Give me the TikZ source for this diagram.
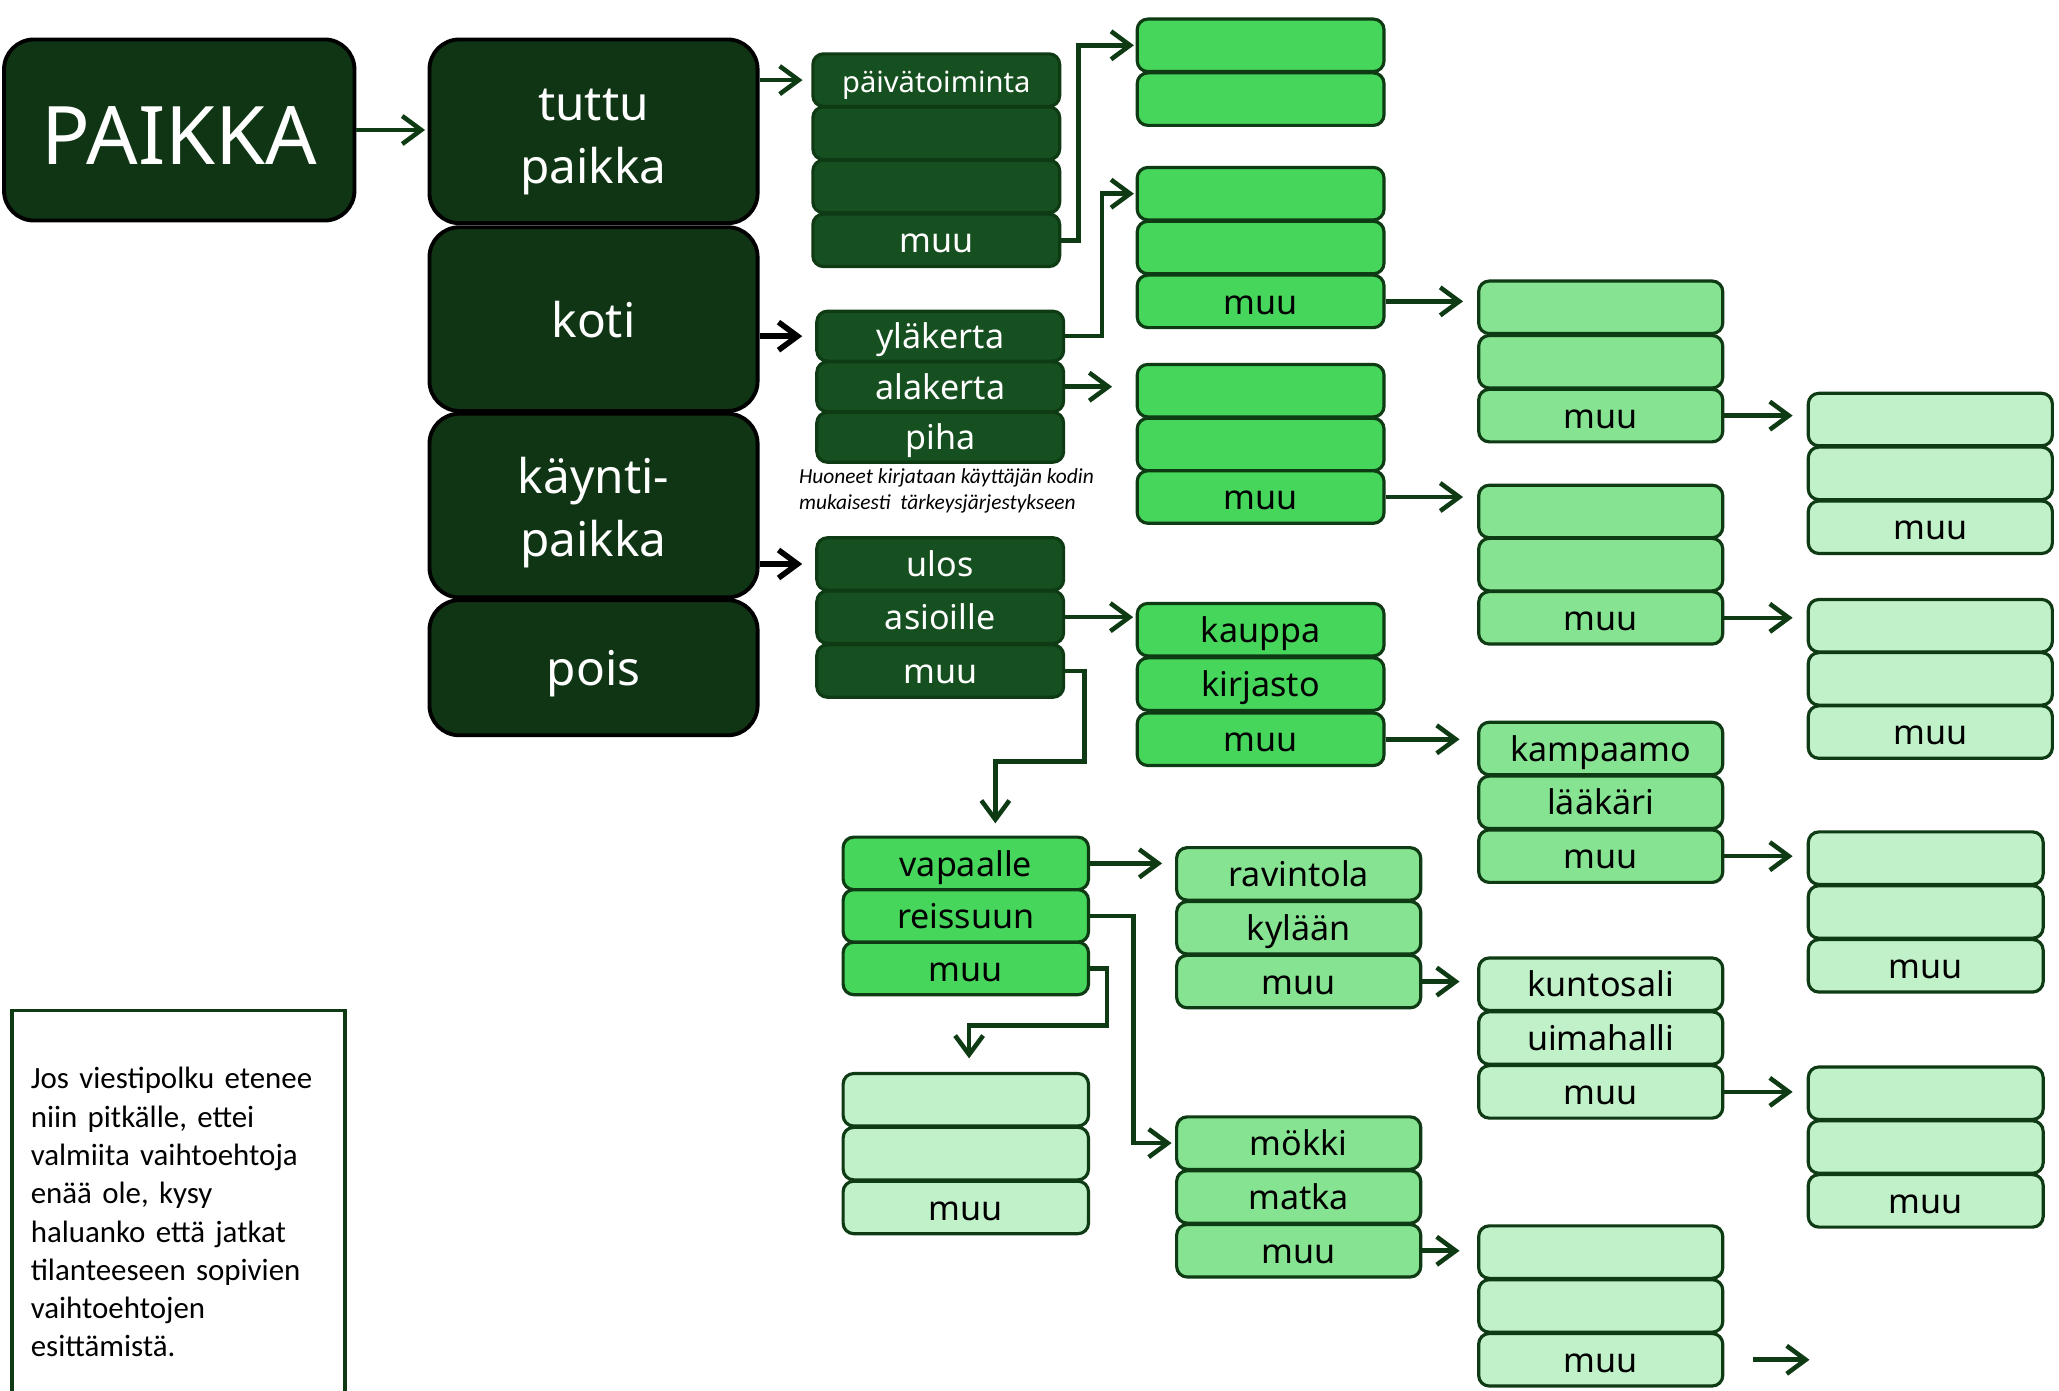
\documentclass[tikz,border=0pt]{standalone}
\usepackage{fontspec}
\setmainfont{Noto Sans}
\newfontfamily\notefont{Carlito}
\usepackage{tikz}
\usetikzlibrary{arrows.meta}

\definecolor{dgreen}{HTML}{0F3514}
\definecolor{mgreen}{HTML}{175020}
\definecolor{bgreen}{HTML}{46D65C}
\definecolor{lgreen}{HTML}{86E391}
\definecolor{pgreen}{HTML}{C1F1C8}
\definecolor{linegreen}{HTML}{0E3A14}

\begin{document}
\begin{tikzpicture}[x=0.013131cm,y=-0.013131cm]

\tikzstyle{big}=[draw=black,line width=1.1pt,fill=dgreen,rounded corners=8.5pt,text=white,minimum width=3.283cm,align=center,font=\fontsize{13.6}{17.9}\selectfont]
\tikzstyle{row}=[draw=linegreen,line width=0.9pt,rounded corners=3pt,minimum width=2.469cm,minimum height=0.525cm,inner sep=0pt,text height=8.4pt,text depth=1.2pt,font=\fontsize{9.7}{11}\selectfont]
\tikzstyle{rd}=[row,fill=mgreen,text=white]
\tikzstyle{rb}=[row,fill=bgreen]
\tikzstyle{rl}=[row,fill=lgreen,minimum width=2.442cm]
\tikzstyle{rp}=[row,fill=pgreen,minimum width=2.442cm]
\tikzstyle{arr}=[draw=linegreen,line width=1.3pt,-{Straight Barb[length=1.9mm,width=2.8mm]},shorten >=2.5pt]
\tikzstyle{barr}=[arr,draw=black,line width=1.6pt]

\useasboundingbox (0,0) rectangle (1568,1059);

% first levels
\node[big,minimum width=3.506cm,minimum height=1.812cm,font=\fontsize{23}{28}\selectfont] (paikka) at (136.5,99) {\rule{0pt}{19.5pt}PAIKKA};
\node[big,minimum height=1.838cm] (tut) at (452,100) {\rule{0pt}{15pt}tuttu\\paikka};
\node[big,minimum height=1.838cm] (kot) at (452,243) {koti};
\node[big,minimum height=1.838cm] (kay) at (452,385) {\rule{0pt}{14.1pt}käynti-\\paikka};
\node[big,minimum height=1.352cm] (poi) at (452,508.5) {\rule{0pt}{13.3pt}pois};

\node[rd,font=\fontsize{8.3}{10}\selectfont] (pv1) at (713,61) {päivätoiminta};
\node[rd] (pv2) at (713,101.5) {};
\node[rd] (pv3) at (713,142) {};
\node[rd] (pv4) at (713,183) {muu};

\node[rd,minimum height=0.499cm] (yla) at (716,256) {yläkerta};
\node[rd,minimum height=0.499cm] (ala) at (716,294.5) {alakerta};
\node[rd,minimum height=0.499cm] (pih) at (716,333) {piha};

\node[anchor=west,align=left,inner sep=0pt,font=\notefont\itshape\fontsize{6.1}{7.5}\selectfont] (huom) at (608,374) {Huoneet kirjataan käyttäjän kodin\\mukaisesti\ \ tärkeysjärjestykseen};

\node[rd] (ulo) at (716,429.5) {ulos};
\node[rd] (asi) at (716,470) {asioille};
\node[rd] (cmuu) at (716,511) {muu};

% bright green
\node[rb] (d1) at (960,34.5) {};
\node[rb] (d2) at (960,75.5) {};

\node[rb] (e1) at (960,147.5) {};
\node[rb] (e2) at (960,188.5) {};
\node[rb] (emuu) at (960,229.5) {muu};

\node[rb] (f1) at (960,297.5) {};
\node[rb] (f2) at (960,338.5) {};
\node[rb] (fmuu) at (960,378.5) {muu};

\node[rb] (kau) at (960,479.5) {kauppa};
\node[rb] (kir) at (960,521) {kirjasto};
\node[rb] (gmuu) at (960,563) {muu};

\node[rb,minimum width=2.455cm] (vap) at (735.5,657.5) {vapaalle};
\node[rb,minimum width=2.455cm] (rei) at (735.5,697.5) {reissuun};
\node[rb,minimum width=2.455cm] (omuu) at (735.5,737.5) {muu};

% light green
\node[rl] (h1) at (1219,234) {};
\node[rl] (h2) at (1219,275.5) {};
\node[rl] (hmuu) at (1219,316.5) {muu};

\node[rl] (i1) at (1219,389.5) {};
\node[rl] (i2) at (1219,430) {};
\node[rl] (imuu) at (1219,470.5) {muu};

\node[rl] (kam) at (1219,570) {kampaamo};
\node[rl] (laa) at (1219,611) {lääkäri};
\node[rl] (jmuu) at (1219,652) {muu};

\node[rl] (rav) at (989,665.5) {ravintola};
\node[rl] (kyl) at (989,706.5) {kylään};
\node[rl] (pmuu) at (989,747.5) {muu};

\node[rl] (mok) at (989,870.5) {mökki};
\node[rl] (mat) at (989,911.5) {matka};
\node[rl] (rmuu) at (989,952.5) {muu};

% pale green
\node[rp] (k1) at (1470,319.5) {};
\node[rp] (k2) at (1470,360.5) {};
\node[rp] (kmuu) at (1470,401.5) {muu};

\node[rp] (l1) at (1470,476.5) {};
\node[rp] (l2) at (1470,517) {};
\node[rp] (lmuu) at (1470,557.5) {muu};

\node[rp,minimum width=2.350cm] (m1) at (1466.5,653.5) {};
\node[rp,minimum width=2.350cm] (m2) at (1466.5,694.5) {};
\node[rp,minimum width=2.350cm] (mmuu) at (1466.5,735.5) {muu};

\node[rp,minimum width=2.350cm] (n1) at (1466.5,832.5) {};
\node[rp,minimum width=2.350cm] (n2) at (1466.5,873.5) {};
\node[rp,minimum width=2.350cm] (nmuu) at (1466.5,914.5) {muu};

\node[rp] (kun) at (1219,749.5) {kuntosali};
\node[rp] (uim) at (1219,790.5) {uimahalli};
\node[rp] (qmuu) at (1219,831.5) {muu};

\node[rp] (s1) at (1219,953.5) {};
\node[rp] (s2) at (1219,994.5) {};
\node[rp] (smuu) at (1219,1035.5) {muu};

\node[rp,minimum width=2.455cm] (t1) at (735.5,837.5) {};
\node[rp,minimum width=2.455cm] (t2) at (735.5,878.5) {};
\node[rp,minimum width=2.455cm] (tmuu) at (735.5,919.5) {muu};

\node[draw=linegreen,line width=1.1pt,anchor=north west,minimum width=3.335cm,minimum height=4.04cm,inner xsep=0.19cm,inner ysep=0pt,text width=2.955cm,align=left,font=\notefont\fontsize{8.8}{10.9}\selectfont] (ohje) at (7.5,768) {Jos viestipolku etenee\\niin pitkälle, ettei\\valmiita vaihtoehtoja\\enää ole, kysy\\haluanko että jatkat\\tilanteeseen sopivien\\vaihtoehtojen\\esittämistä.};

% bends
\node[shape=coordinate] (bo) at (826,580){};
\node[shape=coordinate] (to) at (758,627){};
\node[shape=coordinate] (bt) at (843,781){};
\node[shape=coordinate] (tt) at (738,806){};
\node[shape=coordinate] (send) at (1378,1035.5){};

\draw[arr,shorten >=0.7pt] (paikka.east) -- (paikka.east -| tut.west);
\draw[arr] (pv1.west -| tut.east) -- (pv1.west);
\draw[barr,shorten >=3.7pt] (yla.west -| kot.east) -- (yla.west);
\draw[barr,shorten >=3.7pt] (ulo.west -| kay.east) -- (ulo.west);
\draw[arr,shorten >=0.5pt] (pv4.east) -- ++(13,0) |- (d1.west);
\draw[arr,shorten >=0.5pt] (yla.east) -- ++(28,0) |- (e1.west);
\draw[arr,shorten >=6.7pt] (ala.east) -- (ala.east -| f1.west);
\draw[arr,shorten >=0.7pt] (asi.east) -- (asi.east -| kau.west);
\draw[arr,shorten >=4pt] (emuu.east) -- (emuu.east -| h1.west);
\draw[arr,shorten >=4pt] (fmuu.east) -- (fmuu.east -| i1.west);
\draw[arr,shorten >=5pt] (gmuu.east) -- (gmuu.east -| kam.west);
\draw[arr,shorten >=4pt] (hmuu.east) -- (hmuu.east -| k1.west);
\draw[arr,shorten >=4pt] (imuu.east) -- (imuu.east -| l1.west);
\draw[arr,shorten >=4pt] (jmuu.east) -- (jmuu.east -| m1.west);
\draw[arr,shorten >=0pt] (cmuu.east) -| (bo) -| (to);
\draw[arr,shorten >=3.7pt] (vap.east) -- (vap.east -| rav.west);
\draw[arr,shorten >=1pt] (rei.east) -- ++(33,0) |- (mok.west);
\draw[arr,shorten >=0pt] (omuu.east) -| (bt) -| (tt);
\draw[arr,shorten >=5pt] (pmuu.east) -- (pmuu.east -| kun.west);
\draw[arr,shorten >=4pt] (qmuu.east) -- (qmuu.east -| n1.west);
\draw[arr,shorten >=5pt] (rmuu.east) -- (rmuu.east -| s1.west);
\draw[arr,shorten <=8.2pt,shorten >=0pt] (smuu.east) -- (send);

\end{tikzpicture}
\end{document}
